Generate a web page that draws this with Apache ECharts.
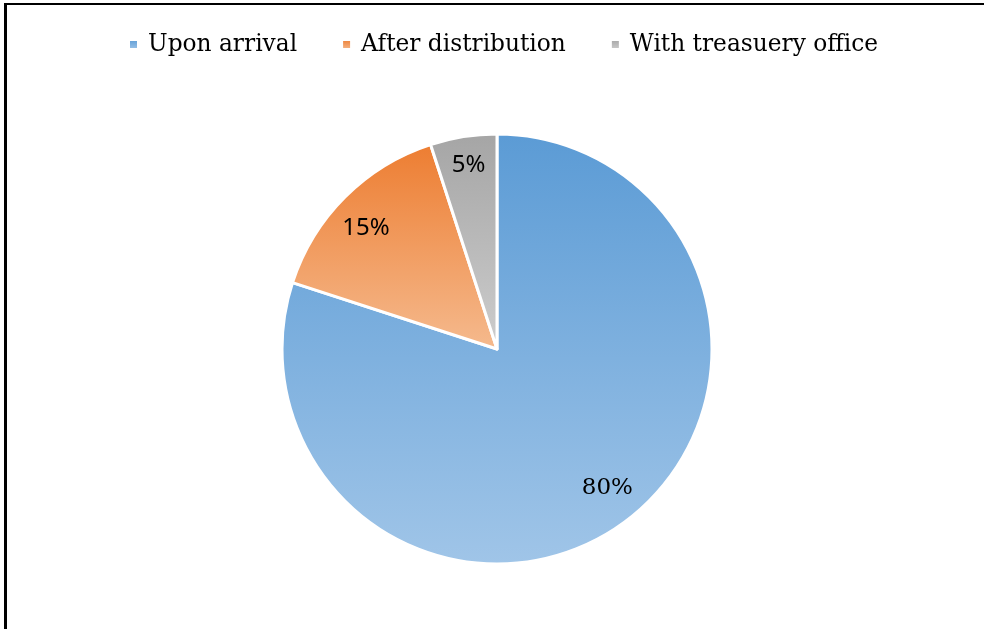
<!DOCTYPE html>
<html>
<head>
<meta charset="utf-8">
<script src="https://cdn.jsdelivr.net/npm/echarts@6/dist/echarts.min.js"></script>
<style>
  html, body { margin: 0; padding: 0; background: #fff; }
  #frame { position: absolute; left: 4px; top: 3px; width: 980px; height: 626px;
           border-left: 3px solid #000; border-top: 2px solid #000; box-sizing: border-box; }
  #chart { position: absolute; left: 0; top: 0; width: 984px; height: 629px; }
</style>
</head>
<body>
<div id="chart"></div>
<div id="frame"></div>
<script>
// Where the payments are made
const categories = ['Upon arrival', 'After distribution', 'With treasuery office'];
const shares = [80, 15, 5];
// Top / bottom colours of each slice's vertical gradient
const topColors = ['#5B9BD5', '#ED7D31', '#A5A5A5'];
const bottomColors = ['#A0C5E8', '#F5BA8E', '#CDCDCD'];
const labelFonts = ['DejaVu Serif', 'Noto Sans', 'Noto Sans'];
const labelSizes = [23, 24, 24];
// small nudges of the percentage labels inside their slices
const labelNudges = [[4, -7], [-3, 7], [0, -5]];

function grad(i) {
  return new echarts.graphic.LinearGradient(0, 0, 0, 1, [
    { offset: 0, color: topColors[i] },
    { offset: 1, color: bottomColors[i] }
  ]);
}

const pieData = categories.map((name, i) => ({
  name: name,
  value: shares[i],
  itemStyle: { color: grad(i) }
}));

const labelData = categories.map((name, i) => ({
  name: name,
  value: shares[i],
  label: { fontFamily: labelFonts[i], fontSize: labelSizes[i], offset: labelNudges[i] }
}));

const chart = echarts.init(document.getElementById('chart'), null, { renderer: 'canvas' });
chart.setOption({
  animation: false,
  backgroundColor: '#fff',
  legend: {
    data: categories,
    left: 123,
    top: 28,
    itemWidth: 9,
    itemHeight: 9,
    itemGap: 44,
    icon: 'rect',
    textStyle: { fontFamily: 'DejaVu Serif', fontSize: 23.3, color: '#000', padding: [0, 0, 0, 5] }
  },
  series: [
    {
      type: 'pie',
      center: [497, 349],
      radius: [0, 215],
      startAngle: 90,
      clockwise: true,
      silent: true,
      label: { show: false },
      labelLine: { show: false },
      itemStyle: { borderColor: '#fff', borderWidth: 3 },
      data: pieData
    },
    {
      // transparent ring used only to place the percentage labels
      type: 'pie',
      center: [497, 349],
      radius: [138, 218],
      startAngle: 90,
      clockwise: true,
      silent: true,
      legendHoverLink: false,
      itemStyle: { color: 'rgba(0,0,0,0)' },
      label: {
        show: true,
        position: 'inside',
        formatter: '{c}%',
        color: '#000'
      },
      labelLine: { show: false },
      data: labelData
    }
  ]
});
</script>
</body>
</html>
